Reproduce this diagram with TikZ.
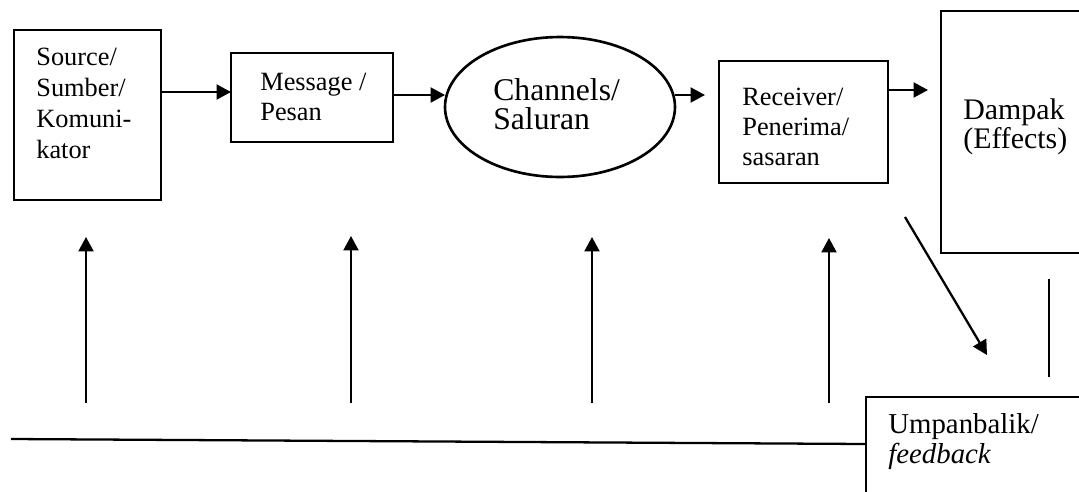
\documentclass[tikz,border=0pt]{standalone}
\usepackage{fontspec}
\setmainfont{Liberation Serif}
\usetikzlibrary{arrows.meta,shapes.geometric}

\tikzset{
  box/.style={draw,line width=1.5pt,outer sep=0,inner sep=0,anchor=north west},
  txt/.style={anchor=base west,inner sep=0,align=left,font=\fontsize{15}{17.5}\selectfont},
  arr/.style={-{Triangle[length=0.29cm,width=0.3cm]},line width=1.3pt},
  plain/.style={line width=1.3pt},
}

\begin{document}
\begin{tikzpicture}[x=0.02cm,y=-0.02cm]
\useasboundingbox (0,0) rectangle (1079,491);
\clip (0,0) rectangle (1079,491);

\node [box,minimum width=2.94cm,minimum height=3.4cm]  (src) at ( 14, 30) {};
\node [box,minimum width=3.24cm,minimum height=1.78cm] (msg) at (231, 53) {};
\node [draw,ellipse,line width=1.5pt,outer sep=0,
       minimum width=4.6cm,minimum height=2.8cm]       (ch)  at (560,107) {};
\node [box,minimum width=3.38cm,minimum height=2.44cm] (rcv) at (719, 61) {};
\node [box,minimum width=3.2cm, minimum height=4.84cm] (dmp) at (941, 11) {};
\node [box,minimum width=4.6cm, minimum height=2.2cm]  (fb)  at (866,397) {};

% base anchor sits on the last line
\node [txt] (srctxt) at ( 36,158) {Source/\\Sumber/\\Komuni-\\kator};
\node [txt,font=\fontsize{15}{17}\selectfont] (msgtxt) at (260,120) {Message /\\Pesan};
\node [txt,font=\fontsize{18}{16}\selectfont] (chtxt)  at (493,129) {Channels/\\Saluran};
\node [txt,font=\fontsize{15}{17}\selectfont] (rcvtxt) at (742,165) {Receiver/\\Penerima/\\sasaran};
\node [txt,font=\fontsize{17}{16.5}\selectfont] (dmptxt) at (963,148) {Dampak\\(Effects)};
\node [txt,font=\fontsize{16.4}{17}\selectfont] (fbtxt)  at (888,463) {Umpanbalik/\\\textit{feedback}};

\draw[arr] (src.east |- 0,92) -- (msg.west |- 0,92);
\draw[arr] (msg.east |- 0,95) -- (ch.west  |- 0,95);
\draw[arr,shorten >=0.28cm] (ch.east  |- 0,95) -- (rcv.west |- 0,95);
\draw[arr,shorten >=0.26cm] (rcv.east |- 0,90) -- (dmp.west |- 0,90);

\coordinate (up1) at ( 86,403);
\coordinate (up2) at (351,403);
\coordinate (up3) at (592,403);
\coordinate (up4) at (829,403);
\draw[arr,shorten >=0.74cm] (up1) -- (src.south -| up1);
\draw[arr,shorten >=1.88cm] (up2) -- (msg.south -| up2);
\draw[arr,shorten >=1.2cm]  (up3) -- (ch.south  -| up3);
\draw[arr,shorten >=1.1cm]  (up4) -- (rcv.south -| up4);

\coordinate (fbline) at (11,439);
\draw[plain] (fbline) -- (fb.west |- 0,444);

\coordinate (diag0) at (905,217);
\coordinate (diag1) at (987,355);
\draw[arr] (diag0) -- (diag1);

\draw[plain,shorten <=0.52cm,shorten >=0.4cm]
    (dmp.south -| 1049,0) -- (fb.north -| 1049,0);
\end{tikzpicture}
\end{document}
